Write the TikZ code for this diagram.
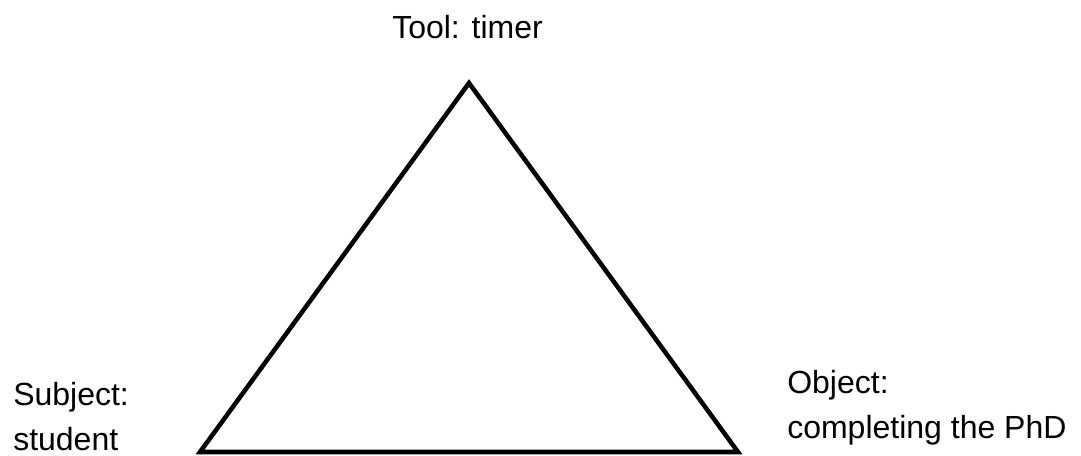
\documentclass[tikz,border=0pt]{standalone}
\usepackage{fontspec}
\setmainfont{Liberation Sans}
\begin{document}
\begin{tikzpicture}[x=0.75pt,y=-0.75pt,
    lbl/.style={inner sep=0pt,anchor=base west,align=left,
      font=\fontsize{24}{33.75}\selectfont}]
  \useasboundingbox (0,0) rectangle (1081,455);
  \coordinate (tool) at (469,83);
  \coordinate (subj) at (200,452);
  \coordinate (obj) at (738,452);
  \draw[line width=3.4pt,miter limit=10] (tool) -- (subj) -- (obj) -- cycle; % triangle
  \node[lbl] (toollbl) at (392,38) {Tool: timer};
  \node[lbl] (subjlbl) at (13,450) {Subject:\\student};   % base = last line
  \node[lbl] (objlbl) at (787,438) {Object:\\completing the PhD};
\end{tikzpicture}
\end{document}
